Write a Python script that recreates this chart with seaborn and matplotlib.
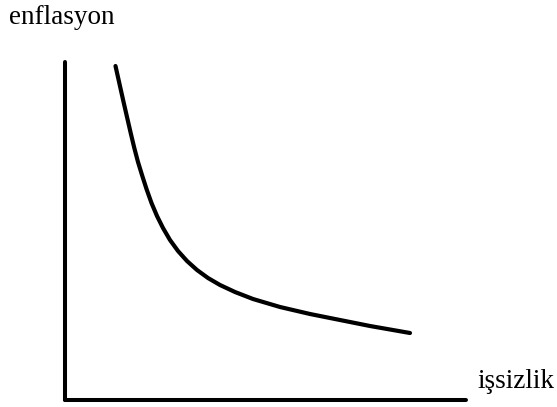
import matplotlib
matplotlib.use("Agg")
import matplotlib.pyplot as plt
import seaborn as sns
import pandas as pd

# Phillips curve sketch values (arbitrary units)
unemployment = [50.5, 54.3, 58.1, 62, 65.7, 69.3, 73, 77, 81.5, 86.5, 92, 98, 105,
                113, 122, 132, 143, 155, 170, 188, 215, 245, 275, 305, 345]
inflation = [334, 317, 300, 283, 267, 252, 238, 225, 211, 197, 184, 172, 160,
             149, 139, 130, 122, 115, 108, 101, 93, 86, 80, 74, 67]
x_label = "işsizlik"
y_label = "enflasyon"

sns.set_theme(style="white")
plt.rcParams['font.family'] = ['Liberation Serif', 'DejaVu Serif']

df = pd.DataFrame({"u": unemployment, "p": inflation})

fig = plt.figure(figsize=(5.57, 4.07), dpi=100)
ax = fig.add_axes([65/557, 7/407, (466-65)/557, (400-62)/407])
sns.lineplot(data=df, x="u", y="p", sort=False, estimator=None, color="black",
             linewidth=3.0, ax=ax, solid_capstyle="round", solid_joinstyle="round")
ax.set_xlim(0, 401)
ax.set_ylim(0, 338)
for s in ["top", "right"]:
    ax.spines[s].set_visible(False)
for s in ["left", "bottom"]:
    ax.spines[s].set_color("black")
    ax.spines[s].set_linewidth(2.9)
    ax.spines[s].set_capstyle("round")
ax.set_xticks([])
ax.set_yticks([])
ax.set_xlabel("")
ax.set_ylabel("")
fig.text(9/557, 1 - 18/407, y_label, fontsize=19.5, color="black", va="center", ha="left")
fig.text(477/557, 1 - 382/407, x_label, fontsize=19.5, color="black", va="center", ha="left")
fig.savefig("out.png", dpi=100, facecolor="white")
